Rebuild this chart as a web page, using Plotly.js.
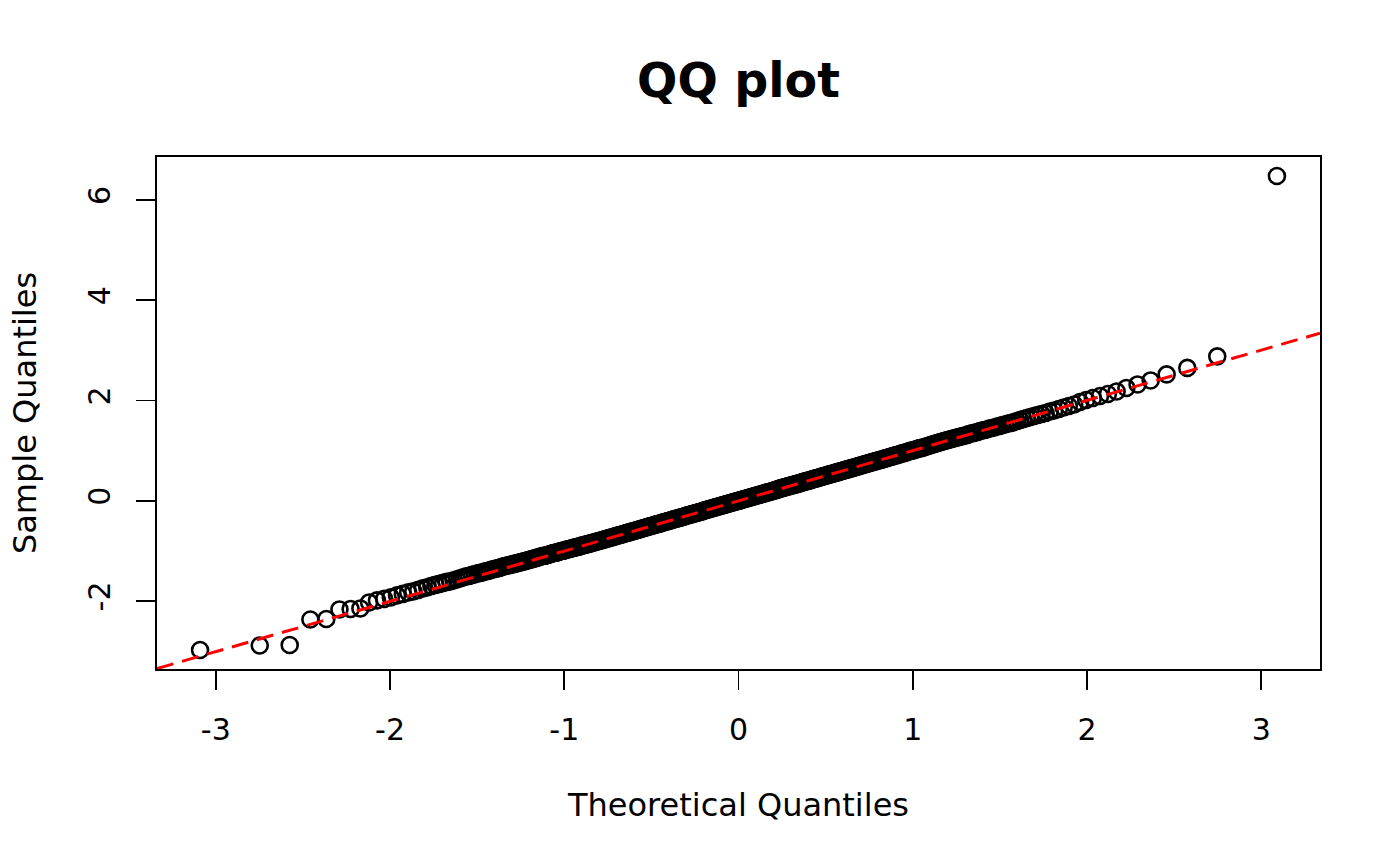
<!DOCTYPE html>
<html>
<head>
<meta charset="utf-8">
<script src="https://cdn.plot.ly/plotly-3.0.1.min.js"></script>
<style>html,body{margin:0;padding:0;background:#fff;}#chart{width:1400px;height:866px;}</style>
</head>
<body>
<div id="chart"></div>
<script>
// Sorted sample values, n = 500
const sampleQuantiles = [
-2.98,-2.89,-2.88,-2.37,-2.36,-2.17,-2.16,-2.15,-2.03,-1.99,
-1.96,-1.93,-1.89,-1.86,-1.83,-1.81,-1.78,-1.75,-1.73,-1.70,
-1.68,-1.66,-1.64,-1.62,-1.61,-1.59,-1.57,-1.55,-1.53,-1.51,
-1.50,-1.48,-1.47,-1.45,-1.44,-1.43,-1.41,-1.40,-1.39,-1.37,
-1.36,-1.35,-1.34,-1.32,-1.31,-1.30,-1.29,-1.28,-1.27,-1.26,
-1.25,-1.24,-1.23,-1.22,-1.21,-1.20,-1.19,-1.18,-1.17,-1.16,
-1.15,-1.14,-1.13,-1.12,-1.11,-1.10,-1.10,-1.09,-1.08,-1.07,
-1.06,-1.05,-1.04,-1.04,-1.03,-1.02,-1.01,-1.00,-1.00,-0.99,
-0.98,-0.97,-0.97,-0.96,-0.95,-0.94,-0.94,-0.93,-0.92,-0.92,
-0.91,-0.90,-0.89,-0.89,-0.88,-0.87,-0.87,-0.86,-0.85,-0.85,
-0.84,-0.83,-0.83,-0.82,-0.81,-0.81,-0.80,-0.79,-0.79,-0.78,
-0.77,-0.77,-0.76,-0.75,-0.75,-0.74,-0.73,-0.73,-0.72,-0.71,
-0.71,-0.70,-0.69,-0.69,-0.68,-0.68,-0.67,-0.66,-0.66,-0.65,
-0.64,-0.64,-0.63,-0.63,-0.62,-0.61,-0.61,-0.60,-0.60,-0.59,
-0.58,-0.58,-0.57,-0.57,-0.56,-0.55,-0.55,-0.54,-0.54,-0.53,
-0.52,-0.52,-0.51,-0.51,-0.50,-0.50,-0.49,-0.48,-0.48,-0.47,
-0.47,-0.46,-0.46,-0.45,-0.45,-0.44,-0.43,-0.43,-0.42,-0.42,
-0.41,-0.41,-0.40,-0.40,-0.39,-0.38,-0.38,-0.37,-0.37,-0.36,
-0.36,-0.35,-0.35,-0.34,-0.34,-0.33,-0.33,-0.32,-0.32,-0.31,
-0.30,-0.30,-0.29,-0.29,-0.28,-0.28,-0.27,-0.27,-0.26,-0.26,
-0.25,-0.25,-0.24,-0.24,-0.23,-0.23,-0.22,-0.22,-0.21,-0.21,
-0.20,-0.19,-0.19,-0.18,-0.18,-0.17,-0.17,-0.16,-0.16,-0.15,
-0.15,-0.14,-0.14,-0.13,-0.13,-0.12,-0.12,-0.11,-0.11,-0.10,
-0.10,-0.09,-0.09,-0.08,-0.08,-0.07,-0.07,-0.06,-0.06,-0.05,
-0.05,-0.04,-0.04,-0.03,-0.03,-0.02,-0.02,-0.01,-0.01,0.00,
0.00,0.01,0.01,0.02,0.02,0.03,0.03,0.04,0.04,0.05,
0.05,0.06,0.06,0.07,0.07,0.08,0.08,0.09,0.09,0.10,
0.10,0.11,0.11,0.12,0.12,0.13,0.13,0.14,0.14,0.15,
0.15,0.16,0.16,0.17,0.17,0.18,0.18,0.19,0.19,0.20,
0.20,0.21,0.21,0.22,0.22,0.23,0.24,0.24,0.25,0.25,
0.26,0.26,0.27,0.27,0.28,0.28,0.29,0.29,0.30,0.30,
0.31,0.31,0.32,0.32,0.33,0.33,0.34,0.34,0.35,0.35,
0.36,0.37,0.37,0.38,0.38,0.39,0.39,0.40,0.40,0.41,
0.41,0.42,0.43,0.43,0.44,0.44,0.45,0.45,0.46,0.46,
0.47,0.48,0.48,0.49,0.49,0.50,0.50,0.51,0.52,0.52,
0.53,0.53,0.54,0.54,0.55,0.56,0.56,0.57,0.57,0.58,
0.59,0.59,0.60,0.60,0.61,0.62,0.62,0.63,0.63,0.64,
0.65,0.65,0.66,0.66,0.67,0.68,0.68,0.69,0.70,0.70,
0.71,0.72,0.72,0.73,0.74,0.74,0.75,0.76,0.76,0.77,
0.78,0.78,0.79,0.80,0.80,0.81,0.82,0.82,0.83,0.84,
0.85,0.85,0.86,0.87,0.88,0.88,0.89,0.90,0.91,0.91,
0.92,0.93,0.94,0.95,0.95,0.96,0.97,0.98,0.99,1.00,
1.00,1.01,1.02,1.03,1.04,1.05,1.05,1.06,1.07,1.08,
1.09,1.10,1.11,1.12,1.13,1.14,1.15,1.16,1.17,1.18,
1.19,1.20,1.21,1.22,1.23,1.24,1.25,1.26,1.27,1.28,
1.29,1.30,1.31,1.33,1.34,1.35,1.36,1.37,1.39,1.40,
1.41,1.42,1.44,1.45,1.46,1.48,1.49,1.51,1.52,1.54,
1.55,1.57,1.59,1.61,1.63,1.65,1.67,1.69,1.71,1.73,
1.75,1.78,1.80,1.83,1.86,1.89,1.92,1.97,2.01,2.05,
2.09,2.13,2.18,2.25,2.32,2.40,2.52,2.65,2.88,6.48
];

const xTickValues = [-3, -2, -1, 0, 1, 2, 3];
const yTickValues = [-2, 0, 2, 4, 6];
const chartTitle = "QQ plot";
const xTitle = "Theoretical Quantiles";
const yTitle = "Sample Quantiles";

// Standard normal quantile function (Acklam's rational approximation), as used by qqnorm
function qnorm(p) {
  const a = [-3.969683028665376e+01, 2.209460984245205e+02, -2.759285104469687e+02,
             1.383577518672690e+02, -3.066479806614716e+01, 2.506628277459239e+00];
  const b = [-5.447609879822406e+01, 1.615858368580409e+02, -1.556989798598866e+02,
             6.680131188771972e+01, -1.328068155288572e+01];
  const c = [-7.784894002430293e-03, -3.223964580411365e-01, -2.400758277161838e+00,
             -2.549732539343734e+00, 4.374664141464968e+00, 2.938163982698783e+00];
  const d = [7.784695709041462e-03, 3.224671290700398e-01, 2.445134137142996e+00,
             3.754408661907416e+00];
  const pLow = 0.02425, pHigh = 1 - pLow;
  let q, r;
  if (p < pLow) {
    q = Math.sqrt(-2 * Math.log(p));
    return (((((c[0]*q+c[1])*q+c[2])*q+c[3])*q+c[4])*q+c[5]) /
           ((((d[0]*q+d[1])*q+d[2])*q+d[3])*q+1);
  } else if (p <= pHigh) {
    q = p - 0.5; r = q*q;
    return (((((a[0]*r+a[1])*r+a[2])*r+a[3])*r+a[4])*r+a[5])*q /
           (((((b[0]*r+b[1])*r+b[2])*r+b[3])*r+b[4])*r+1);
  } else {
    q = Math.sqrt(-2 * Math.log(1 - p));
    return -(((((c[0]*q+c[1])*q+c[2])*q+c[3])*q+c[4])*q+c[5]) /
            ((((d[0]*q+d[1])*q+d[2])*q+d[3])*q+1);
  }
}

// ppoints(n) as in R (a = 0.5 for n > 10)
const n = sampleQuantiles.length;
const theoretical = sampleQuantiles.map((_, i) => qnorm((i + 1 - 0.5) / n));

// R-style axis range: data range extended by 4% on each side
function rRange(v) {
  const lo = Math.min(...v), hi = Math.max(...v), e = 0.04 * (hi - lo);
  return [lo - e, hi + e];
}
const xr = rRange(theoretical);
const yr = rRange(sampleQuantiles);

// qqline: line through the first and third quartiles (R quantile type 7)
function quantile7(sorted, prob) {
  const h = (sorted.length - 1) * prob, lo = Math.floor(h), hi = Math.ceil(h);
  return sorted[lo] + (h - lo) * (sorted[hi] - sorted[lo]);
}
const yq = [quantile7(sampleQuantiles, 0.25), quantile7(sampleQuantiles, 0.75)];
const xq = [qnorm(0.25), qnorm(0.75)];
const slope = (yq[1] - yq[0]) / (xq[1] - xq[0]);
const intercept = yq[0] - slope * xq[0];
const lineX = xr;
const lineY = lineX.map(x => intercept + slope * x);

const font = "DejaVu Sans, Liberation Sans, sans-serif";

const traces = [
  {
    type: "scatter", mode: "markers",
    x: theoretical, y: sampleQuantiles,
    marker: {symbol: "circle-open", size: 16, color: "#000", line: {width: 2.6, color: "#000"}},
    hoverinfo: "x+y", showlegend: false
  },
  {
    type: "scatter", mode: "lines",
    x: lineX, y: lineY,
    line: {color: "#ff0000", width: 3, dash: "17px,9px"},
    showlegend: false, hoverinfo: "skip"
  }
];

const axisCommon = {
  showgrid: false, zeroline: false,
  showline: true, mirror: true, linecolor: "#000", linewidth: 1.8,
  ticks: "outside", ticklen: 19, tickwidth: 1.8, tickcolor: "#000",
  tickfont: {family: font, size: 30, color: "#000"},
  automargin: false
};

const layout = {
  width: 1400, height: 866,
  paper_bgcolor: "#fff", plot_bgcolor: "#fff",
  margin: {l: 157, r: 80, t: 157, b: 197},
  font: {family: font, color: "#000"},
  title: {
    text: "<b>" + chartTitle + "</b>",
    font: {family: font, size: 47.5, color: "#000"},
    x: 0.5275, xref: "container", xanchor: "center",
    y: 1 - 80/866, yref: "container", yanchor: "middle"
  },
  xaxis: Object.assign({}, axisCommon, {
    range: xr,
    tickmode: "array", tickvals: xTickValues, ticktext: xTickValues.map(String),
    ticklabelstandoff: 14,
    title: {text: xTitle, font: {family: font, size: 32, color: "#000"}, standoff: 48}
  }),
  yaxis: Object.assign({}, axisCommon, {
    range: yr,
    tickmode: "array", tickvals: yTickValues, ticktext: yTickValues.map(String),
    tickangle: -90,
    ticklabelstandoff: 14,
    title: {text: yTitle, font: {family: font, size: 32, color: "#000"}, standoff: 36}
  })
};

Plotly.newPlot("chart", traces, layout, {displayModeBar: false, staticPlot: true});
</script>
</body>
</html>
